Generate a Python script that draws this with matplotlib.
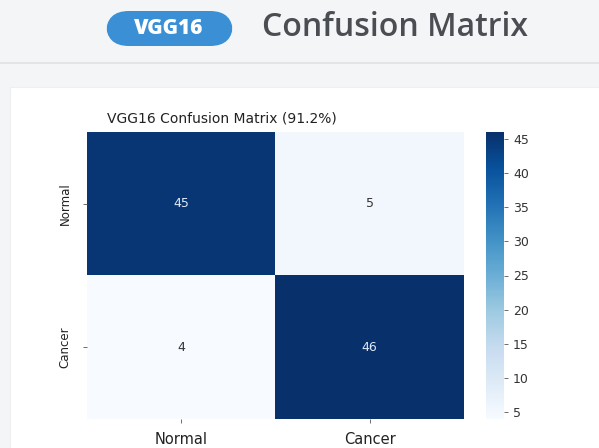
import numpy as np
import matplotlib
matplotlib.use("Agg")
import matplotlib.pyplot as plt
from matplotlib.patches import FancyBboxPatch, Rectangle

# ---- data ----
classes = ["Normal", "Cancer"]
cm_row_normal = [45, 5]
cm_row_cancer = [4, 46]
accuracy_pct = 91.2
model_name = "VGG16"
cbar_ticks = [5, 10, 15, 20, 25, 30, 35, 40, 45]

cm = np.array([cm_row_normal, cm_row_cancer])

W, H = 599, 448
fig = plt.figure(figsize=(W / 100, H / 100), dpi=100)
fig.patch.set_facecolor("#f4f5f7")

def fx(px):
    return px / W

def fy(py):
    return 1 - py / H

# separator line and white card
fig.add_artist(Rectangle((0, fy(64)), 1, 2 / H, transform=fig.transFigure,
                         facecolor="#e3e4e7", edgecolor="none", zorder=-10))
fig.add_artist(Rectangle((fx(10), -0.01), 1, fy(87) + 0.01, transform=fig.transFigure,
                         facecolor="white", edgecolor="#eeeff1", linewidth=0.8,
                         zorder=-10))

# header pill + title
pill = FancyBboxPatch((fx(106), fy(46)), fx(233) - fx(106), (46 - 11) / H,
                      boxstyle="round,pad=0,rounding_size=0.038",
                      transform=fig.transFigure, facecolor="#3b8fd5",
                      edgecolor="none", mutation_aspect=W / H, zorder=-5)
fig.add_artist(pill)
fig.text(fx(169), fy(29), model_name, color="white", fontsize=15,
         fontweight="heavy", family="Open Sans", ha="center", va="center")
fig.text(fx(262), fy(28), "Confusion Matrix", color="#4a4d52", fontsize=23,
         fontweight="semibold", family="Open Sans", ha="left", va="center")

# heatmap
ax = fig.add_axes([fx(87), fy(419), fx(464) - fx(87), (419 - 132) / H])
cax = fig.add_axes([fx(486), fy(419), fx(504) - fx(486), (419 - 132) / H])
vmin, vmax = cm.min(), cm.max()
im = ax.imshow(cm, cmap="Blues", vmin=vmin, vmax=vmax, aspect="auto",
               interpolation="nearest")
mid = (vmin + vmax) / 2
for i in range(cm.shape[0]):
    for j in range(cm.shape[1]):
        v = cm[i, j]
        ax.text(j, i, str(v), ha="center", va="center", fontsize=9,
                color="#dfe9f7" if v > mid else "#333333")
ax.set_xticks(range(len(classes)))
ax.set_xticklabels(classes, fontsize=10.5, color="#222222")
ax.set_yticks(range(len(classes)))
ax.set_yticklabels(classes, fontsize=8.5, color="#222222", rotation=90,
                   va="center")
for s in ax.spines.values():
    s.set_visible(False)
ax.tick_params(length=3, width=0.6, color="#555555")
ax.tick_params(axis="y", pad=8)
ax.tick_params(axis="x", pad=6)
title = f"{model_name} Confusion Matrix ({accuracy_pct}%)"
fig.text(fx(222), fy(119), title, fontsize=10, color="#222222",
         ha="center", va="center")

cb = fig.colorbar(im, cax=cax, ticks=cbar_ticks)
cb.outline.set_visible(False)
cax.tick_params(labelsize=9, length=3, width=0.6, color="#555555",
                labelcolor="#333333")

fig.savefig("out.png", dpi=100, facecolor=fig.get_facecolor())
